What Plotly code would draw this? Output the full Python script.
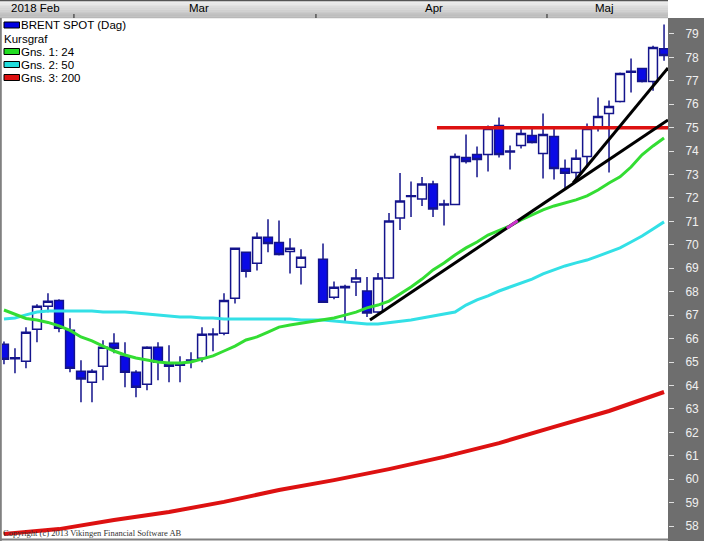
import plotly.graph_objects as go

# ---------------- data ----------------
# trading-day slots (one slot has no quote)
day = list(range(0, 28)) + list(range(29, 61))

opens = [65.76, 65.14, 65.03, 66.40, 67.38, 67.63, 66.35, 64.61, 64.14, 64.82,
         65.80, 65.25, 64.56, 64.05, 65.63, 64.90, 64.86, 65.05, 65.16, 66.16,
         66.23, 67.72, 69.68, 69.21, 70.32, 70.10, 69.72, 69.04,
         69.38, 67.76, 68.22, 68.41, 68.03, 67.13, 68.59, 71.15, 72.06, 71.96,
         72.60, 71.74, 71.72, 73.73, 73.86, 73.86, 75.09, 73.96, 74.24, 74.67,
         73.90, 74.62, 73.26, 73.09, 73.77, 75.00, 75.60, 76.12, 77.37, 77.52,
         76.97, 78.37]
highs = [65.88, 65.59, 66.48, 67.46, 67.93, 67.68, 66.87, 65.07, 64.69, 65.93,
         66.23, 65.84, 64.65, 65.67, 65.84, 65.71, 65.25, 65.42, 66.48, 66.44,
         67.93, 69.89, 69.70, 70.53, 71.09, 71.04, 70.28, 69.81,
         70.06, 68.44, 68.30, 68.97, 68.63, 68.80, 71.36, 73.07, 72.70, 72.90,
         72.73, 71.92, 73.90, 74.71, 74.20, 75.09, 75.43, 74.24, 74.96, 75.00,
         75.60, 74.96, 73.64, 74.07, 75.18, 76.29, 76.16, 77.35, 77.95, 77.56,
         78.50, 79.40]
lows = [64.90, 64.52, 64.73, 65.84, 67.12, 66.27, 64.56, 63.28, 63.28, 64.22,
        65.37, 63.92, 63.50, 63.80, 64.22, 64.14, 64.14, 64.73, 64.99, 65.46,
        66.14, 67.50, 68.61, 68.91, 69.68, 69.55, 68.78, 68.31,
        67.53, 67.68, 66.75, 67.82, 66.92, 67.09, 68.54, 70.63, 71.19, 71.66,
        71.19, 70.83, 71.70, 73.47, 72.88, 73.13, 73.73, 73.22, 74.11, 74.32,
        72.83, 72.79, 72.41, 72.75, 73.30, 74.84, 73.09, 76.07, 76.50, 76.93,
        76.58, 77.86]
closes = [65.12, 65.18, 66.27, 67.38, 67.59, 66.44, 64.73, 64.27, 64.61, 65.63,
          65.59, 64.56, 63.92, 65.63, 64.99, 64.82, 64.95, 65.09, 66.18, 66.20,
          67.63, 69.85, 68.87, 70.32, 70.06, 69.59, 69.85, 69.47,
          67.55, 68.19, 68.17, 68.59, 67.09, 68.59, 71.02, 71.87, 72.10, 72.60,
          71.53, 71.70, 73.77, 73.56, 73.64, 74.96, 73.86, 74.00, 74.75, 74.37,
          74.71, 73.26, 73.05, 73.69, 74.96, 75.48, 75.90, 77.31, 77.41, 76.97,
          78.42, 78.08]

ma24 = [67.22, 67.05, 66.86, 66.79, 66.69, 66.54, 66.35, 66.07, 65.90, 65.68,
        65.47, 65.30, 65.17, 65.09, 65.00, 64.96, 64.96, 65.00, 65.13, 65.26,
        65.47, 65.68, 65.94, 66.07, 66.28, 66.49, 66.58, 66.66,
        66.79, 66.88, 67.00, 67.13, 67.31, 67.43, 67.60, 67.90, 68.20, 68.54,
        68.93, 69.23, 69.57, 69.87, 70.12, 70.42, 70.63, 70.81, 71.06, 71.28,
        71.49, 71.66, 71.79, 71.92, 72.09, 72.34, 72.64, 72.90, 73.32, 73.84,
        74.22, 74.56]
ma50 = [66.84, 66.88, 67.01, 67.13, 67.18, 67.18, 67.18, 67.18, 67.18, 67.13,
        67.13, 67.13, 67.09, 67.05, 67.01, 66.96, 66.92, 66.92, 66.88, 66.88,
        66.84, 66.84, 66.84, 66.84, 66.84, 66.84, 66.84, 66.79,
        66.79, 66.75, 66.71, 66.67, 66.62, 66.62, 66.67, 66.71, 66.79, 66.88,
        66.96, 67.05, 67.13, 67.43, 67.65, 67.82, 68.03, 68.20, 68.37, 68.54,
        68.76, 68.93, 69.10, 69.23, 69.35, 69.52, 69.70, 69.87, 70.12, 70.38,
        70.68, 70.98]
ma200_day = [0, 5, 10, 15, 20, 25, 30, 35, 40, 45, 50, 55, 60]
ma200 = [57.66, 57.87, 58.26, 58.60, 59.03, 59.54, 59.96, 60.43, 60.95, 61.54,
         62.23, 62.91, 63.72]

# drawn studies: trendlines and resistance level
trend_days = [[33.27, 60.36], [51.73, 60.36]]
trend_vals = [[66.79, 75.33], [72.64, 77.55]]
resistance_level = 75.0
resistance_from_day = 39.36

y_ticks = list(range(58, 80))
month_labels = ["2018 Feb", "Mar", "Apr", "Maj"]
month_label_day = [0.45, 16.6, 38.1, 53.55]
header_tick_day = [6.36, 28.36, 49.36]

legend_labels = ["BRENT SPOT (Dag)", "Kursgraf", "Gns. 1: 24", "Gns. 2: 50", "Gns. 3: 200"]
legend_colors = ["#0000e0", None, "#22dd22", "#22dddd", "#dd1111"]

# ---------------- layout geometry ----------------
W, H = 704, 541
PL, PR, PT, PB = 2, 668, 18, 538
XMIN, XMAX = -0.18, 60.36
YMIN, YMAX = 57.49, 79.68


def px(xp):
    return (xp - PL) / (PR - PL)


def py(yp):
    return (PB - yp) / (PB - PT)


def dx(d):
    return (d - XMIN) / (XMAX - XMIN)


fig = go.Figure()

fig.add_trace(go.Candlestick(
    x=day, open=opens, high=highs, low=lows, close=closes,
    increasing=dict(line=dict(color="#14148c", width=1.5), fillcolor="#ffffff"),
    decreasing=dict(line=dict(color="#14148c", width=1.5), fillcolor="#0a0ae6"),
    whiskerwidth=0, showlegend=False, hoverinfo="skip",
))

fig.add_trace(go.Scatter(x=ma200_day, y=ma200, mode="lines",
                         line=dict(color="#dd1111", width=4), showlegend=False, hoverinfo="skip"))
fig.add_trace(go.Scatter(x=day, y=ma50, mode="lines",
                         line=dict(color="#33e0e6", width=3), showlegend=False, hoverinfo="skip"))
fig.add_trace(go.Scatter(x=day, y=ma24, mode="lines",
                         line=dict(color="#33dd33", width=3), showlegend=False, hoverinfo="skip"))

shapes = []
# resistance line
shapes.append(dict(type="line", xref="x", yref="y", x0=resistance_from_day, x1=XMAX,
                   y0=resistance_level, y1=resistance_level,
                   line=dict(color="#dd1111", width=3.5)))
# trendlines
for tx, tv in zip(trend_days, trend_vals):
    shapes.append(dict(type="line", xref="x", yref="y", x0=tx[0], x1=tx[1], y0=tv[0], y1=tv[1],
                       line=dict(color="#000000", width=3)))
# magenta fleck where MA24 crosses the trendline
m0, m1 = 45.7, 46.7
slope = (trend_vals[0][1] - trend_vals[0][0]) / (trend_days[0][1] - trend_days[0][0])
shapes.append(dict(type="line", xref="x", yref="y", x0=m0, x1=m1,
                   y0=trend_vals[0][0] + slope * (m0 - trend_days[0][0]),
                   y1=trend_vals[0][0] + slope * (m1 - trend_days[0][0]),
                   line=dict(color="#cc33cc", width=3)))

# right axis panel
shapes.append(dict(type="rect", xref="paper", yref="paper", x0=1, x1=px(W + 2), y0=py(H + 2), y1=1,
                   fillcolor="#6e6e6e", line=dict(width=0), layer="below"))
# header gradient
grad = ["#eeeeee", "#e8e8e8", "#e2e2e2", "#dcdcdc", "#d6d6d6", "#d0d0d0", "#cacaca",
        "#c4c4c4", "#bebebe", "#b8b8b8"]
n = len(grad)
for i, c in enumerate(grad):
    y0 = 1 + 17 * i / n
    y1 = 1 + 17 * (i + 1) / n
    shapes.append(dict(type="rect", xref="paper", yref="paper", x0=px(0), x1=1,
                       y0=py(y1 + 0.3), y1=py(y0), fillcolor=c, line=dict(width=0)))
shapes.append(dict(type="line", xref="paper", yref="paper", x0=px(0), x1=1,
                   y0=py(0.5), y1=py(0.5), line=dict(color="#555555", width=1.5)))
# header ticks
for d in header_tick_day:
    shapes.append(dict(type="line", xref="paper", yref="paper", x0=dx(d), x1=dx(d),
                       y0=py(18), y1=py(14), line=dict(color="#222222", width=1)))
# left border and bottom border
shapes.append(dict(type="line", xref="paper", yref="paper", x0=px(0.8), x1=px(0.8),
                   y0=py(H), y1=py(18), line=dict(color="#808080", width=2)))
shapes.append(dict(type="line", xref="paper", yref="paper", x0=px(0), x1=1,
                   y0=py(539.5), y1=py(539.5), line=dict(color="#808080", width=2)))

# legend icons
icon_y = [25, None, 51.5, 64.5, 77.5]
for c, yc in zip(legend_colors, icon_y):
    if c is None:
        continue
    shapes.append(dict(type="rect", xref="paper", yref="paper", x0=px(4), x1=px(19.5),
                       y0=py(yc + 3), y1=py(yc - 3), fillcolor=c,
                       line=dict(color="#000000", width=1)))

annotations = []
text_y = [25, 39, 52, 64.5, 77.5]
text_x = [19, 2, 19, 19, 19]
for t, xt, yt in zip(legend_labels, text_x, text_y):
    annotations.append(dict(text=t, xref="paper", yref="paper", x=px(xt), y=py(yt),
                            xanchor="left", yanchor="middle", showarrow=False,
                            font=dict(family="Liberation Sans", size=11.5, color="#000000")))
for t, d in zip(month_labels, month_label_day):
    annotations.append(dict(text=t, xref="paper", yref="paper", x=dx(d), y=py(7.5),
                            xanchor="left", yanchor="middle", showarrow=False,
                            font=dict(family="Liberation Sans", size=11.5, color="#000000")))
annotations.append(dict(text="Copyright (c) 2013 Vikingen Financial Software AB",
                        xref="paper", yref="paper", x=px(1), y=py(533), xanchor="left",
                        yanchor="middle", showarrow=False,
                        font=dict(family="Liberation Serif", size=8.5, color="#333333")))

fig.update_layout(
    width=W, height=H, autosize=False,
    margin=dict(l=PL, r=W - PR, t=PT, b=H - PB, pad=0),
    paper_bgcolor="#ffffff", plot_bgcolor="#ffffff",
    boxgap=0.2, boxgroupgap=0,
    showlegend=False,
    shapes=shapes, annotations=annotations,
    xaxis=dict(range=[XMIN, XMAX], visible=False, showgrid=False, zeroline=False,
               rangeslider=dict(visible=False), fixedrange=True),
    yaxis=dict(range=[YMIN, YMAX], side="right", tickvals=y_ticks,
               ticktext=[str(v) for v in y_ticks], ticks="outside", ticklen=5,
               tickcolor="#e0e0e0", tickwidth=1, showgrid=False, zeroline=False,
               showline=False, ticklabelstandoff=9,
               tickfont=dict(family="Liberation Sans", size=12, color="#f0f0f0"),
               fixedrange=True),
)

fig.write_html("out.html", config=dict(displayModeBar=False, staticPlot=True),
               post_script="document.body.style.margin='0';document.body.style.overflow='hidden';")
